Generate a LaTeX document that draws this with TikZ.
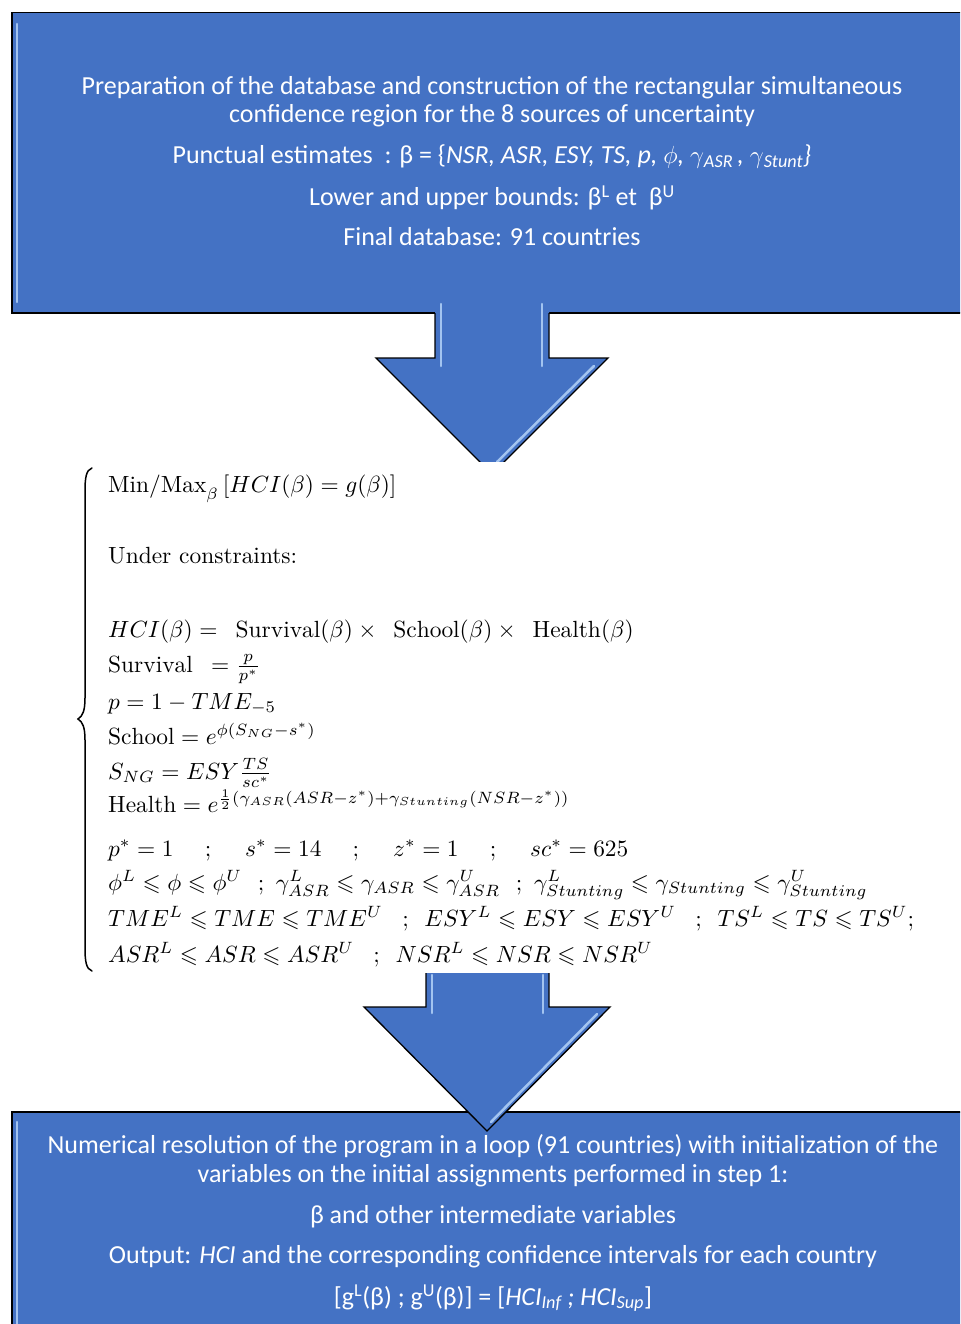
\documentclass[tikz,border=0pt]{standalone}
\usepackage{amsmath,amssymb}
\usepackage{fontspec}
\newfontfamily\calib{Carlito}
\definecolor{boxblue}{HTML}{4472C4}
\definecolor{bevel}{HTML}{A3C4F0}
\tikzset{
  bluebox/.style={fill=boxblue, draw=black, line width=1.5bp, rectangle, inner sep=0},
  arrowshape/.style={fill=boxblue, draw=black, line width=1.3bp, line join=miter},
  bevelline/.style={draw=bevel, line width=2.5bp, line cap=round},
  boxtext/.style={text=white, font=\calib\fontsize{26bp}{30bp}\selectfont, anchor=base, inner sep=0},
  mathline/.style={anchor=base west, inner sep=0},
  bracepath/.style={draw=black, line width=1.5bp, line cap=round},
}
\newcommand{\mth}[1]{\scalebox{2.35}{$#1$}}
\begin{document}
\begin{tikzpicture}[x=1bp,y=-1bp]
\useasboundingbox (0,0) rectangle (960,1324);
\clip (0,0) rectangle (960,1324);
% top box
\node[bluebox, anchor=north west, minimum width=980bp, minimum height=300bp] (top) at (11,12) {};
\draw[bevelline] (17,24) -- (17,302);
% arrow 1
\begin{scope}
\clip (0,0) rectangle (960,461);
\fill[boxblue] (435,300) -- (435,358) -- (376,358) -- (492,474) -- (608,358) -- (549,358) -- (549,300) -- cycle;
\draw[arrowshape, fill=none] (435,313) -- (435,358) -- (376,358) -- (492,474) -- (608,358) -- (549,358) -- (549,313);
\draw[bevelline] (441,304) -- (441,366);
\draw[bevelline] (542,304) -- (542,366);
\draw[bevelline] (594,366) -- (497,462);
\end{scope}
% bottom box
\node[bluebox, anchor=north west, minimum width=980bp, minimum height=240bp] (bottom) at (11,1111) {};
\draw[bevelline] (17,1122) -- (17,1330);
% arrow 2
\fill[boxblue] (426,973) -- (426,1007) -- (364,1007) -- (487,1131) -- (610,1007) -- (549,1007) -- (549,973) -- cycle;
\draw[arrowshape, fill=none] (426,973) -- (426,1007) -- (364,1007) -- (487,1131) -- (610,1007) -- (549,1007) -- (549,973);
\draw[bevelline] (432,975) -- (432,1013);
\draw[bevelline] (543,975) -- (543,1013);
\draw[bevelline] (597,1014) -- (491,1122);
% top text
\node[boxtext] (t1) at (492,95) {Preparation of the database and construction of the rectangular simultaneous};
\node[boxtext] (t2) at (492,123) {confidence region for the 8 sources of uncertainty};
\node[boxtext] (t3) at (492,164) {Punctual estimates\ \ : β = \{\textit{NSR, ASR, ESY, TS, p, $\phi$, $\gamma$\textsubscript{ASR}\,, $\gamma$\textsubscript{Stunt}\}}};
\node[boxtext] (t4) at (492,206) {Lower and upper bounds: β\textsuperscript{L} et\ \ β\textsuperscript{U}};
\node[boxtext] (t5) at (492,246) {Final database: 91 countries};
% bottom text
\node[boxtext] (b1) at (493,1153) {Numerical resolution of the program in a loop (91 countries) with initialization of the};
\node[boxtext] (b2) at (493,1182) {variables on the initial assignments performed in step 1:};
\node[boxtext] (b3) at (493,1223) {β and other intermediate variables};
\node[boxtext] (b4) at (493,1263) {Output: \textit{HCI} and the corresponding confidence intervals for each country};
\node[boxtext] (b5) at (493,1305) {[g\textsuperscript{L}(β) ; g\textsuperscript{U}(β)] = [\textit{HCI\textsubscript{Inf} ; HCI\textsubscript{Sup}}]};
% brace
\coordinate (braceTop) at (92,468);
\coordinate (braceMid) at (78,719);
\coordinate (braceBot) at (92,971);
\draw[bracepath] (braceTop) .. controls (86,470) and (85,478) .. (85,492) -- (85,698)
  .. controls (85,710) and (83,716) .. (braceMid)
  .. controls (83,722) and (85,728) .. (85,740) -- (85,947)
  .. controls (85,961) and (86,969) .. (braceBot);
% math lines
\node[mathline] (m1) at (108,492) {\mth{\mathrm{Min/Max}_\beta\,[HCI(\beta)=g(\beta)]}};
\node[mathline] (m2) at (108,563) {\scalebox{2.35}{Under constraints:}};
\node[mathline] (m3) at (108,637) {\mth{HCI(\beta) =\ \,\mathrm{Survival}(\beta)\times\ \,\mathrm{School}(\beta)\times\ \,\mathrm{Health}(\beta)}};
\node[mathline] (m4) at (108,672) {\mth{\mathrm{Survival}\ \,= \tfrac{p}{p^*}}};
\node[mathline] (m5) at (108,709) {\mth{p = 1 - TME_{-5}}};
\node[mathline] (m6) at (108,744) {\mth{\mathrm{School} = e^{\phi(S_{NG}-s^*)}}};
\node[mathline] (m7) at (108,779) {\mth{S_{NG} = ESY\tfrac{TS}{sc^*}}};
\node[mathline] (m8) at (108,812) {\mth{\mathrm{Health} = e^{\frac12\left(\gamma_{ASR}(ASR-z^*)+\gamma_{Stunting}(NSR-z^*)\right)}}};
\node[mathline] (m9) at (108,856) {\mth{p^*=1\quad\ ;\quad\; s^*=14\quad\ ;\quad\; z^*=1\quad\ ;\quad\; sc^*=625}};
\node[mathline] (m10) at (108,890) {\mth{\phi^L\leqslant\phi\leqslant\phi^U\ \ ;\ \gamma^L_{ASR}\leqslant\gamma_{ASR}\leqslant\gamma^U_{ASR}\ \ ;\ \gamma^L_{Stunting}\leqslant\gamma_{Stunting}\leqslant\gamma^U_{Stunting}}};
\node[mathline] (m11) at (108,926) {\mth{TME^L\leqslant TME\leqslant TME^U\ \ \,;\ \,ESY^L\leqslant ESY\leqslant ESY^U\ \ \,;\ \,TS^L\leqslant TS\leqslant TS^U;}};
\node[mathline] (m12) at (108,962) {\mth{ASR^L\leqslant ASR\leqslant ASR^U\ \ \,;\ \,NSR^L\leqslant NSR\leqslant NSR^U}};
\end{tikzpicture}
\end{document}
